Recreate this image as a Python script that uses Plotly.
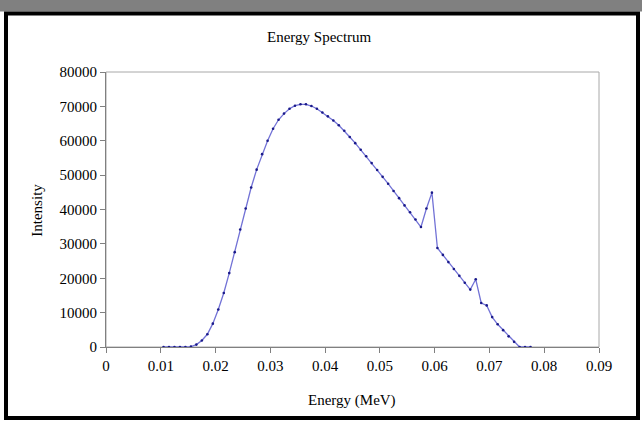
import plotly.graph_objects as go

# Data
energy_mev = [
    0.0105, 0.0115, 0.0125, 0.0135, 0.0145, 0.0155, 0.0165, 0.0175, 0.0185, 0.0195,
    0.0205, 0.0215, 0.0225, 0.0235, 0.0245, 0.0255, 0.0265, 0.0275, 0.0285, 0.0295,
    0.0305, 0.0315, 0.0325, 0.0335, 0.0345, 0.0355, 0.0365, 0.0375, 0.0385, 0.0395,
    0.0405, 0.0415, 0.0425, 0.0435, 0.0445, 0.0455, 0.0465, 0.0475, 0.0485, 0.0495,
    0.0505, 0.0515, 0.0525, 0.0535, 0.0545, 0.0555, 0.0565, 0.0575, 0.0585, 0.0595,
    0.0605, 0.0615, 0.0625, 0.0635, 0.0645, 0.0655, 0.0665, 0.0675, 0.0685, 0.0695,
    0.0705, 0.0715, 0.0725, 0.0735, 0.0745, 0.0755, 0.0765, 0.0775,
]
intensity = [
    0, 0, 0, 0, 0, 100, 700, 1900, 3700, 6800,
    10900, 15700, 21500, 27600, 34200, 40300, 46400, 51600, 56100, 60000,
    63500, 66100, 67900, 69300, 70200, 70600, 70600, 70100, 69300, 68200,
    67100, 65900, 64500, 62900, 61100, 59300, 57400, 55500, 53500, 51500,
    49500, 47500, 45400, 43300, 41200, 39200, 37100, 34900, 40300, 44900,
    28800, 26800, 24700, 22700, 20700, 18700, 16700, 19700, 12800, 12100,
    8700, 6600, 4900, 3100, 1500, 0, 0, 0,
]

x_ticks = [0, 0.01, 0.02, 0.03, 0.04, 0.05, 0.06, 0.07, 0.08, 0.09]
x_tick_text = ["0", "0.01", "0.02", "0.03", "0.04", "0.05", "0.06", "0.07", "0.08", "0.09"]
y_ticks = [0, 10000, 20000, 30000, 40000, 50000, 60000, 70000, 80000]
y_tick_text = ["0", "10000", "20000", "30000", "40000", "50000", "60000", "70000", "80000"]

W, H = 642, 421
L, R, T, B = 106, 599, 72, 347
pw, ph = R - L, B - T

def px(xp):
    return (xp - L) / pw

def py(yp):
    return (B - yp) / ph

FONT = "Liberation Serif"

fig = go.Figure()
fig.add_trace(go.Scatter(
    x=energy_mev, y=intensity, mode="lines+markers",
    line=dict(color="#7272d6", width=1.3),
    marker=dict(color="#1a1a8a", size=2.6),
    showlegend=False, hoverinfo="skip",
))

fig.update_layout(
    width=W, height=H,
    margin=dict(l=L, r=W - R, t=T, b=H - B, pad=0),
    paper_bgcolor="white", plot_bgcolor="white",
    font=dict(family=FONT, size=15, color="black"),
    showlegend=False,
    xaxis=dict(
        range=[0, 0.09], tickvals=x_ticks, ticktext=x_tick_text,
        showgrid=False, zeroline=False, showline=True, linecolor="#808080", linewidth=1,
        ticks="outside", ticklen=5, tickcolor="#808080",
        tickfont=dict(family=FONT, size=15, color="black"),
    ),
    yaxis=dict(
        range=[0, 80000], tickvals=y_ticks, ticktext=y_tick_text,
        showgrid=False, zeroline=False, showline=True, linecolor="#808080", linewidth=1,
        ticks="outside", ticklen=5, tickcolor="#808080",
        tickfont=dict(family=FONT, size=15, color="black"),
    ),
    shapes=[
        dict(type="rect", xref="paper", yref="paper", x0=0, y0=0, x1=1, y1=1,
             line=dict(color="#a8a8a8", width=1), layer="below"),
        dict(type="rect", xref="paper", yref="paper",
             x0=px(0), x1=px(W), y0=py(0), y1=py(11.5),
             fillcolor="#808080", line=dict(width=0)),
        dict(type="rect", xref="paper", yref="paper",
             x0=px(6), x1=px(638), y0=py(13.5), y1=py(418),
             line=dict(color="black", width=4)),
    ],
    annotations=[
        dict(text="Energy Spectrum", xref="paper", yref="paper",
             x=px(319), y=py(37), showarrow=False, xanchor="center", yanchor="middle",
             font=dict(family=FONT, size=15, color="black")),
        dict(text="Energy (MeV)", xref="paper", yref="paper",
             x=px(352), y=py(400.5), showarrow=False, xanchor="center", yanchor="middle",
             font=dict(family=FONT, size=15, color="black")),
        dict(text="Intensity", xref="paper", yref="paper",
             x=px(36.7), y=py(210), showarrow=False, xanchor="center", yanchor="middle",
             textangle=-90, font=dict(family=FONT, size=15, color="black")),
    ],
)

fig.write_html(
    "out.html",
    config={"displayModeBar": False},
    post_script="document.body.style.margin='0';document.body.style.padding='0';document.body.style.overflow='hidden';",
)
